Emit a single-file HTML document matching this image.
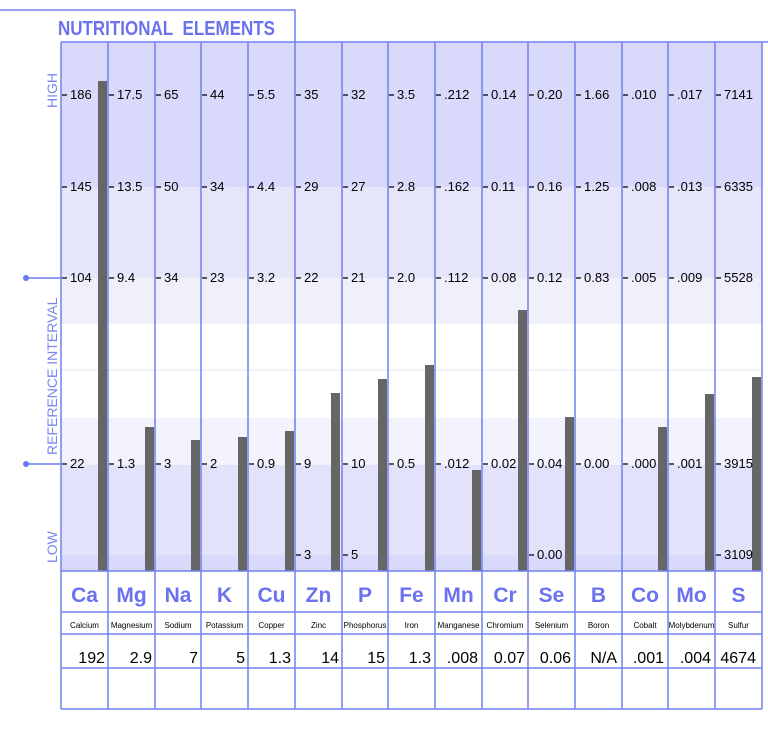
<!DOCTYPE html>
<html><head><meta charset="utf-8"><style>body{margin:0;background:#fff}svg{display:block}</style></head><body>
<svg width="768" height="734" xmlns="http://www.w3.org/2000/svg" font-family="Liberation Sans, Arial, sans-serif">
<rect x="61" y="42" width="701" height="145" fill="#d9d9fc"/>
<rect x="61" y="187" width="701" height="91" fill="#e6e6fb"/>
<rect x="61" y="278" width="701" height="46" fill="#f0f0fd"/>
<rect x="61" y="324" width="701" height="94" fill="#ffffff"/>
<line x1="61" y1="370" x2="762" y2="370" stroke="#f2f2fb" stroke-width="2"/>
<rect x="61" y="418" width="701" height="47" fill="#f3f3fd"/>
<rect x="61" y="465" width="701" height="90" fill="#e2e2fa"/>
<rect x="61" y="555" width="701" height="16" fill="#d9d9fb"/>
<!-- title -->
<polyline points="0,10 295,10 295,42" fill="none" stroke="#7080f0" stroke-width="1.5"/>
<text x="58" y="35" font-size="20" font-weight="bold" fill="#6a72ee" textLength="217" lengthAdjust="spacingAndGlyphs">NUTRITIONAL&#160; ELEMENTS</text>
<line x1="61" y1="42" x2="768" y2="42" stroke="#7080f0" stroke-width="1.5"/>
<!-- left labels -->
<text transform="translate(57,108) rotate(-90)" font-size="14" fill="#7a86f0">HIGH</text>
<text transform="translate(57,455) rotate(-90)" font-size="14" fill="#7a86f0">REFERENCE INTERVAL</text>
<text transform="translate(57,563) rotate(-90)" font-size="14" fill="#7a86f0">LOW</text>
<line x1="26" y1="278" x2="61" y2="278" stroke="#6a78f0" stroke-width="1.5"/>
<line x1="26" y1="464" x2="61" y2="464" stroke="#6a78f0" stroke-width="1.5"/>
<circle cx="26" cy="278" r="3" fill="#6a78f0"/><circle cx="26" cy="464" r="3" fill="#6a78f0"/>
<!-- bars -->
<g fill="#666">
<rect x="98" y="81" width="9" height="490"/>
<rect x="145" y="427" width="9" height="144"/>
<rect x="191" y="440" width="9" height="131"/>
<rect x="238" y="437" width="9" height="134"/>
<rect x="285" y="431" width="9" height="140"/>
<rect x="331" y="393" width="9" height="178"/>
<rect x="378" y="379" width="9" height="192"/>
<rect x="425" y="365" width="9" height="206"/>
<rect x="472" y="470" width="9" height="101"/>
<rect x="518" y="310" width="9" height="261"/>
<rect x="565" y="417" width="9" height="154"/>
<rect x="658" y="427" width="9" height="144"/>
<rect x="705" y="394" width="9" height="177"/>
<rect x="752" y="377" width="9" height="194"/>
</g>
<!-- grid -->
<g stroke="#7080f0" stroke-width="1.5">
<line x1="61" y1="42" x2="61" y2="709"/><line x1="108" y1="42" x2="108" y2="709"/><line x1="155" y1="42" x2="155" y2="709"/><line x1="201" y1="42" x2="201" y2="709"/><line x1="248" y1="42" x2="248" y2="709"/><line x1="295" y1="42" x2="295" y2="709"/><line x1="342" y1="42" x2="342" y2="709"/><line x1="388" y1="42" x2="388" y2="709"/><line x1="435" y1="42" x2="435" y2="709"/><line x1="482" y1="42" x2="482" y2="709"/><line x1="528" y1="42" x2="528" y2="709"/><line x1="575" y1="42" x2="575" y2="709"/><line x1="622" y1="42" x2="622" y2="709"/><line x1="668" y1="42" x2="668" y2="709"/><line x1="715" y1="42" x2="715" y2="709"/><line x1="762" y1="42" x2="762" y2="709"/>
<line x1="61" y1="571" x2="762" y2="571"/><line x1="61" y1="612" x2="762" y2="612"/><line x1="61" y1="634" x2="762" y2="634"/><line x1="61" y1="668" x2="762" y2="668"/><line x1="61" y1="709" x2="762" y2="709"/>
</g>
<!-- tick dashes -->
<g stroke="#000" stroke-width="1.3">
<path d="M62 95h5M109 95h5M156 95h5M202 95h5M249 95h5M296 95h5M343 95h5M389 95h5M436 95h5M483 95h5M529 95h5M576 95h5M623 95h5M669 95h5M716 95h5"/>
<path d="M62 187h5M109 187h5M156 187h5M202 187h5M249 187h5M296 187h5M343 187h5M389 187h5M436 187h5M483 187h5M529 187h5M576 187h5M623 187h5M669 187h5M716 187h5"/>
<path d="M62 278h5M109 278h5M156 278h5M202 278h5M249 278h5M296 278h5M343 278h5M389 278h5M436 278h5M483 278h5M529 278h5M576 278h5M623 278h5M669 278h5M716 278h5"/>
<path d="M62 464h5M109 464h5M156 464h5M202 464h5M249 464h5M296 464h5M343 464h5M389 464h5M436 464h5M483 464h5M529 464h5M576 464h5M623 464h5M669 464h5M716 464h5"/>
<path d="M296 555h5M343 555h5M529 555h5M716 555h5"/>
</g>
<g font-size="13" fill="#000">
<text y="99"><tspan x="70">186</tspan><tspan x="117">17.5</tspan><tspan x="164">65</tspan><tspan x="210">44</tspan><tspan x="257">5.5</tspan><tspan x="304">35</tspan><tspan x="351">32</tspan><tspan x="397">3.5</tspan><tspan x="444">.212</tspan><tspan x="491">0.14</tspan><tspan x="537">0.20</tspan><tspan x="584">1.66</tspan><tspan x="631">.010</tspan><tspan x="677">.017</tspan><tspan x="724">7141</tspan></text>
<text y="191"><tspan x="70">145</tspan><tspan x="117">13.5</tspan><tspan x="164">50</tspan><tspan x="210">34</tspan><tspan x="257">4.4</tspan><tspan x="304">29</tspan><tspan x="351">27</tspan><tspan x="397">2.8</tspan><tspan x="444">.162</tspan><tspan x="491">0.11</tspan><tspan x="537">0.16</tspan><tspan x="584">1.25</tspan><tspan x="631">.008</tspan><tspan x="677">.013</tspan><tspan x="724">6335</tspan></text>
<text y="282"><tspan x="70">104</tspan><tspan x="117">9.4</tspan><tspan x="164">34</tspan><tspan x="210">23</tspan><tspan x="257">3.2</tspan><tspan x="304">22</tspan><tspan x="351">21</tspan><tspan x="397">2.0</tspan><tspan x="444">.112</tspan><tspan x="491">0.08</tspan><tspan x="537">0.12</tspan><tspan x="584">0.83</tspan><tspan x="631">.005</tspan><tspan x="677">.009</tspan><tspan x="724">5528</tspan></text>
<text y="468"><tspan x="70">22</tspan><tspan x="117">1.3</tspan><tspan x="164">3</tspan><tspan x="210">2</tspan><tspan x="257">0.9</tspan><tspan x="304">9</tspan><tspan x="351">10</tspan><tspan x="397">0.5</tspan><tspan x="444">.012</tspan><tspan x="491">0.02</tspan><tspan x="537">0.04</tspan><tspan x="584">0.00</tspan><tspan x="631">.000</tspan><tspan x="677">.001</tspan><tspan x="724">3915</tspan></text>
<text y="559"><tspan x="304">3</tspan><tspan x="351">5</tspan><tspan x="537">0.00</tspan><tspan x="724">3109</tspan></text>
</g>
<g font-size="21" font-weight="bold" fill="#6a72ee" text-anchor="middle">
<text y="602"><tspan x="84.5">Ca</tspan><tspan x="131.5">Mg</tspan><tspan x="178">Na</tspan><tspan x="224.5">K</tspan><tspan x="271.5">Cu</tspan><tspan x="318.5">Zn</tspan><tspan x="365">P</tspan><tspan x="411.5">Fe</tspan><tspan x="458.5">Mn</tspan><tspan x="505">Cr</tspan><tspan x="551.5">Se</tspan><tspan x="598.5">B</tspan><tspan x="645">Co</tspan><tspan x="691.5">Mo</tspan><tspan x="738.5">S</tspan></text>
</g>
<g font-size="8" fill="#000" text-anchor="middle">
<text y="628"><tspan x="84.5">Calcium</tspan><tspan x="131.5">Magnesium</tspan><tspan x="178">Sodium</tspan><tspan x="224.5">Potassium</tspan><tspan x="271.5">Copper</tspan><tspan x="318.5">Zinc</tspan><tspan x="365">Phosphorus</tspan><tspan x="411.5">Iron</tspan><tspan x="458.5">Manganese</tspan><tspan x="505">Chromium</tspan><tspan x="551.5">Selenium</tspan><tspan x="598.5">Boron</tspan><tspan x="645">Cobalt</tspan><tspan x="691.5">Molybdenum</tspan><tspan x="738.5">Sulfur</tspan></text>
</g>
<g font-size="16" fill="#000" text-anchor="end">
<text y="663"><tspan x="105">192</tspan><tspan x="152">2.9</tspan><tspan x="198">7</tspan><tspan x="245">5</tspan><tspan x="291">1.3</tspan><tspan x="339">14</tspan><tspan x="385">15</tspan><tspan x="431">1.3</tspan><tspan x="478">.008</tspan><tspan x="525">0.07</tspan><tspan x="571">0.06</tspan><tspan x="617">N/A</tspan><tspan x="664">.001</tspan><tspan x="711">.004</tspan><tspan x="756">4674</tspan></text>
</g>
</svg>
</body></html>
